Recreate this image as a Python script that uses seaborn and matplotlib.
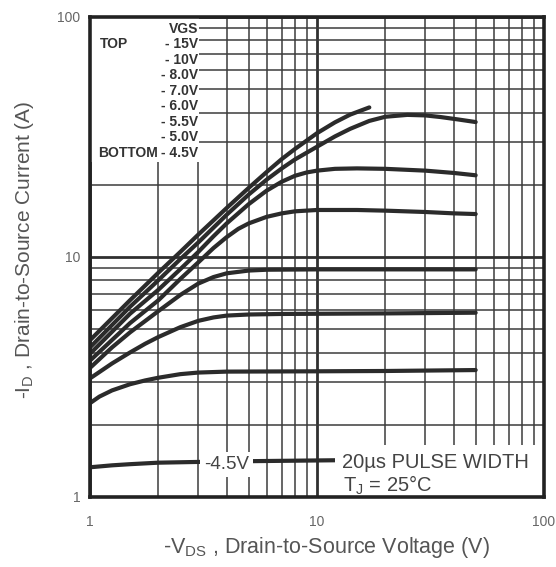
import numpy as np
import pandas as pd
import matplotlib
matplotlib.use("Agg")
import matplotlib.pyplot as plt
import matplotlib.ticker as mticker
from matplotlib.patches import Rectangle
import seaborn as sns

# ---- data (V_DS in V, I_D in A) ----
vgs_labels = ["-15V", "-10V", "-8.0V", "-7.0V", "-6.0V", "-5.5V", "-5.0V", "-4.5V"]

v_15 = [1, 1.5, 2, 2.5, 3, 4, 5, 6, 7, 8, 10, 12, 14, 17]
i_15 = [4.5, 6.6, 8.6, 10.5, 12.4, 16.0, 19.4, 22.6, 25.6, 28.2, 32.8, 36.4, 39.2, 42.0]

v_10 = [1, 1.5, 2, 2.5, 3, 4, 5, 6, 7, 8, 10, 12, 14, 17, 20, 25, 30, 35, 42, 50]
i_10 = [4.2, 6.2, 8.0, 9.8, 11.5, 15.0, 18.2, 21.0, 23.4, 25.5, 28.8, 31.8, 34.2,
        36.9, 38.4, 39.1, 38.9, 38.3, 37.4, 36.5]

v_8 = [1, 1.5, 2, 2.5, 3, 3.5, 4, 5, 6, 7, 8, 9, 10, 12, 15, 20, 30, 40, 50]
i_8 = [3.95, 5.8, 7.3, 8.9, 10.5, 12.2, 13.8, 16.6, 18.9, 20.6, 21.8, 22.5, 22.9,
       23.3, 23.4, 23.3, 22.9, 22.4, 21.9]

v_7 = [1, 1.5, 2, 2.5, 3, 3.5, 4, 4.5, 5, 6, 7, 8, 10, 15, 20, 30, 40, 50]
i_7 = [3.7, 5.3, 6.6, 8.1, 9.5, 10.9, 12.1, 13.1, 13.8, 14.7, 15.2, 15.5, 15.7,
       15.7, 15.6, 15.4, 15.2, 15.1]

v_6 = [1, 1.25, 1.5, 2, 2.5, 3, 3.5, 4, 5, 6, 10, 20, 50]
i_6 = [3.45, 4.2, 4.85, 5.95, 6.95, 7.75, 8.25, 8.55, 8.78, 8.85, 8.88, 8.88, 8.88]

v_55 = [1, 1.25, 1.5, 1.75, 2, 2.5, 3, 3.5, 4, 5, 7, 10, 20, 50]
i_55 = [3.12, 3.6, 4.0, 4.35, 4.64, 5.1, 5.42, 5.6, 5.7, 5.76, 5.79, 5.8, 5.82, 5.86]

v_5 = [1, 1.1, 1.25, 1.5, 1.75, 2, 2.5, 3, 4, 10, 20, 50]
i_5 = [2.46, 2.62, 2.78, 2.95, 3.06, 3.14, 3.25, 3.3, 3.33, 3.34, 3.35, 3.38]

v_45 = [1, 1.25, 1.5, 2, 3, 5, 10, 20, 50]
i_45 = [1.33, 1.355, 1.37, 1.39, 1.40, 1.41, 1.42, 1.43, 1.44]

x_ticks = [1, 10, 100]
x_ticklabels = ["1", "10", "100"]
y_ticks = [1, 10, 100]
y_ticklabels = ["1", "10", "100"]

series = [(v_15, i_15), (v_10, i_10), (v_8, i_8), (v_7, i_7),
          (v_6, i_6), (v_55, i_55), (v_5, i_5), (v_45, i_45)]
frames = []
for lab, (v, i) in zip(vgs_labels, series):
    frames.append(pd.DataFrame({"V": v, "I": i, "VGS": lab}))
df = pd.concat(frames, ignore_index=True)

# ---- style ----
sns.set_style("white")
plt.rcParams["font.family"] = ["Liberation Sans", "DejaVu Sans"]
plt.rcParams["mathtext.fontset"] = "custom"
plt.rcParams["mathtext.rm"] = "Liberation Sans"
plt.rcParams["mathtext.it"] = "Liberation Sans:italic"

fig = plt.figure(figsize=(5.56, 5.67), dpi=100)
ax = fig.add_axes([90 / 556, 1 - 497 / 567, 454 / 556, 480 / 567])
ax.set_axisbelow(True)

line_col = "#2b2b2b"
sns.lineplot(data=df, x="V", y="I", units="VGS", estimator=None, sort=False,
             color=line_col, lw=3.0, ax=ax, zorder=2, legend=False)
for ln in ax.get_lines():
    ln.set_solid_joinstyle("round")
    ln.set_solid_capstyle("round")

ax.set_xscale("log")
ax.set_yscale("log")
ax.set_xlim(1, 100)
ax.set_ylim(1, 100)

ax.set_xticks(x_ticks)
ax.set_xticklabels(x_ticklabels)
ax.set_yticks(y_ticks)
ax.set_yticklabels(y_ticklabels)
ax.xaxis.set_minor_locator(mticker.LogLocator(base=10, subs=np.arange(2, 10)))
ax.yaxis.set_minor_locator(mticker.LogLocator(base=10, subs=np.arange(2, 10)))
ax.xaxis.set_minor_formatter(mticker.NullFormatter())
ax.yaxis.set_minor_formatter(mticker.NullFormatter())

ax.grid(which="major", color="#303030", lw=2.0)
ax.grid(which="minor", color="#3c3c3c", lw=1.1)
ax.tick_params(which="both", length=0)
ax.tick_params(axis="x", pad=13, labelsize=10, labelcolor="#666666")
ax.tick_params(axis="y", pad=7, labelsize=10, labelcolor="#666666")
for sp in ax.spines.values():
    sp.set_linewidth(2.6)
    sp.set_color("#222222")

ax.set_xlabel(r"-V$_{\rm DS}$ , Drain-to-Source Voltage (V)", fontsize=15.5,
              color="#555555")
ax.xaxis.set_label_coords(0.52, -0.080)
ax.set_ylabel(r"-I$_{\rm D}$ , Drain-to-Source Current (A)", fontsize=15,
              color="#555555")
ax.yaxis.set_label_coords(-0.118, 0.515)

# white panel behind VGS legend (top-left)
ax.add_patch(Rectangle((0, 0.698), 0.240, 0.302, transform=ax.transAxes,
                       facecolor="white", edgecolor="none", zorder=1))
# white panel behind bottom-right note
ax.add_patch(Rectangle((0.540, 0.0), 0.46, 0.108, transform=ax.transAxes,
                       facecolor="white", edgecolor="none", zorder=2.2))

leg_font = dict(family=["Liberation Sans Narrow", "Liberation Sans"],
                fontweight="bold", fontsize=10, color="#333333")
legend_rows = ["VGS"] + ["- " + s[1:] for s in vgs_labels]
y0, dy = 0.975, 0.0322
for k, row in enumerate(legend_rows):
    ax.text(0.238, y0 - k * dy, row, transform=ax.transAxes, ha="right",
            va="center", zorder=3, **leg_font)
ax.text(0.022, y0 - dy, "TOP", transform=ax.transAxes, ha="left",
        va="center", zorder=3, **leg_font)
ax.text(0.018, y0 - 8 * dy, "BOTTOM", transform=ax.transAxes, ha="left",
        va="center", zorder=3, **leg_font)

ax.text(0.30, 0.067, "-4.5V", transform=ax.transAxes, ha="center",
        va="center", fontsize=13.5, color="#444444", zorder=3,
        bbox=dict(facecolor="white", edgecolor="none", pad=3))
ax.text(0.555, 0.071, "20µs PULSE WIDTH", transform=ax.transAxes, ha="left",
        va="center", fontsize=14.5, color="#444444", zorder=3)
ax.text(0.557, 0.025, r"T$_{\rm J}$ = 25°C", transform=ax.transAxes,
        ha="left", va="center", fontsize=14.5, color="#444444", zorder=3)

fig.savefig("out.png", dpi=100, facecolor="white")
